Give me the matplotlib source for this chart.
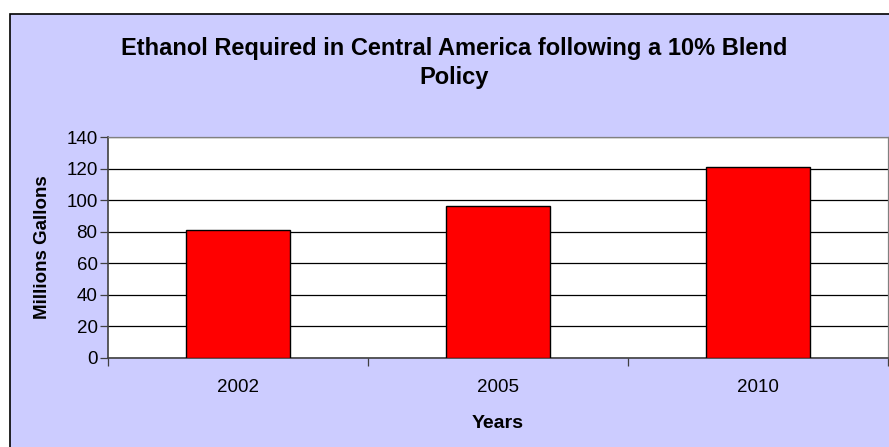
import matplotlib
matplotlib.use("Agg")
import matplotlib.pyplot as plt
from matplotlib.patches import Rectangle
import numpy as np

years = ["2002", "2005", "2010"]
gallons = [81, 96, 121]
y_ticks = [0, 20, 40, 60, 80, 100, 120, 140]

plt.rcParams["font.family"] = ["Liberation Sans", "DejaVu Sans"]

fig = plt.figure(figsize=(8.89, 4.47), dpi=100)
fig.patch.set_facecolor("white")

# lavender chart area with a black frame, cut off at right/bottom
fig.patches.append(Rectangle((10 / 889, -0.05), 1.1, 1 - 14 / 447 + 0.05,
                             transform=fig.transFigure, facecolor="#CCCCFF",
                             edgecolor="black", linewidth=1.2, zorder=-1))

ax = fig.add_axes([108 / 889, 1 - 358 / 447, 780 / 889, 221 / 447])
ax.set_zorder(1)
ax.set_facecolor("white")

x = np.arange(len(years))
ax.bar(x, gallons, width=0.4, color="#FF0000", edgecolor="black",
       linewidth=1.0, zorder=3)

ax.set_xlim(-0.5, len(years) - 0.5)
ax.set_ylim(0, 140)
ax.set_yticks(y_ticks)
ax.set_yticklabels([str(v) for v in y_ticks], fontsize=13.5)
ax.set_xticks(x)
ax.set_xticklabels(years, fontsize=13.5)
ax.set_xticks(np.arange(-0.5, len(years)), minor=True)

ax.yaxis.grid(True, color="black", linewidth=0.9, zorder=1)
ax.tick_params(axis="y", length=6, width=0.9, color="#404040", pad=1.5)
ax.tick_params(axis="x", which="major", length=0, pad=15)
ax.tick_params(axis="x", which="minor", length=6, width=0.9, color="#404040")

for side in ["top", "right"]:
    ax.spines[side].set_color("#808080")
    ax.spines[side].set_linewidth(0.9)
for side in ["left", "bottom"]:
    ax.spines[side].set_color("#404040")
    ax.spines[side].set_linewidth(1.2)

ax.set_ylabel("Millions Gallons", fontsize=13.5, fontweight="bold", labelpad=11)
ax.set_xlabel("Years", fontsize=14, fontweight="bold", labelpad=14)

fig.text(454 / 889, 1 - 63 / 447,
         "Ethanol Required in Central America following a 10% Blend\nPolicy",
         ha="center", va="center", fontsize=17, fontweight="bold",
         linespacing=1.3)

fig.savefig("out.png", dpi=100, facecolor=fig.get_facecolor())
